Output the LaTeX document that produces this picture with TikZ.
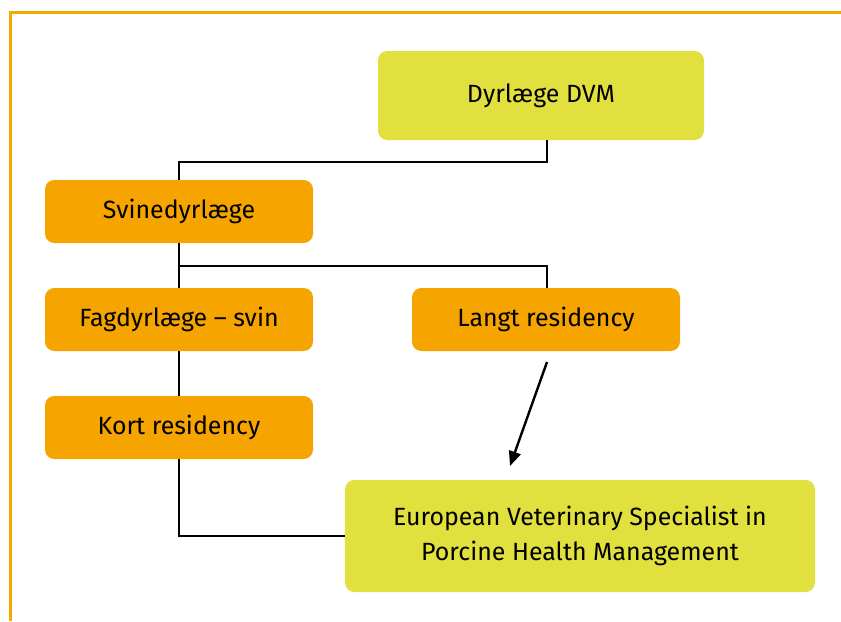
\documentclass[tikz,border=0pt]{standalone}
\usepackage{fontspec}
\setmainfont{Fira Sans}
\usetikzlibrary{arrows.meta}
\definecolor{limefill}{RGB}{225,224,62}
\definecolor{orangefill}{RGB}{245,164,0}
\definecolor{framecol}{RGB}{247,168,0}
\begin{document}
\begin{tikzpicture}[x=0.75pt,y=-0.75pt,
  box/.style={rectangle, rounded corners=7pt, align=center, inner sep=0pt,
    font=\fontsize{18.7}{26}\selectfont, text=black},
  limebox/.style={box, fill=limefill},
  orangebox/.style={box, fill=orangefill, minimum width=201pt, minimum height=47.25pt},
  conn/.style={draw=black, line width=1.6pt},
  arrowconn/.style={draw=black, line width=1.8pt, -{Triangle[length=11pt,width=9pt]}}
]
\useasboundingbox (0,0) rectangle (841,621);
\draw[framecol, line width=2.4pt] (10.5,621) -- (10.5,12.5) -- (841,12.5);

\node[limebox, minimum width=244.5pt, minimum height=66.75pt] (dvm) at (541,95.5) {Dyrlæge DVM};
\node[orangebox] (svine) at (179,211.5) {Svinedyrlæge};
\node[orangebox] (fag) at (179,319.5) {Fagdyrlæge – svin};
\node[orangebox] (langt) at (546,319.5) {Langt residency};
\node[orangebox] (kort) at (179,427.5) {Kort residency};
\node[limebox, minimum width=352.5pt, minimum height=84pt] (euro) at (580,536)
  {European Veterinary Specialist in\\Porcine Health Management};

\coordinate (j1) at (547,162);
\coordinate (j2) at (179,266);
\coordinate (a1) at (547,362);
\coordinate (a2) at (510,466);

\draw[conn] (dvm.south -| j1) -- (j1) -| (svine.north);
\draw[conn] (svine.south) -- (fag.north);
\draw[conn] (j2) -| (langt.north -| j1);
\draw[conn] (fag.south) -- (kort.north);
\draw[conn] (kort.south) |- (euro.west);
\draw[arrowconn] (a1) -- (a2);
\end{tikzpicture}
\end{document}
